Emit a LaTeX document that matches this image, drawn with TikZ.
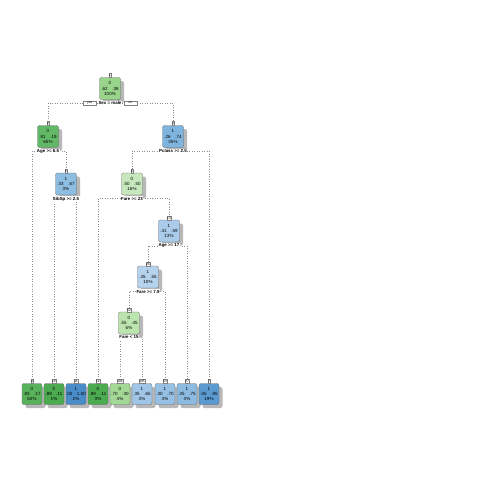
\documentclass[tikz,border=0pt]{standalone}
\usepackage{fontspec}
\setmainfont{Liberation Sans}
\usetikzlibrary{shadows,backgrounds}
\definecolor{g62}{HTML}{98D48A}
\definecolor{g81}{HTML}{62B866}
\definecolor{g83}{HTML}{58B25C}
\definecolor{g89}{HTML}{4CAB50}
\definecolor{g70}{HTML}{A4D896}
\definecolor{g55}{HTML}{BCE4AE}
\definecolor{g50}{HTML}{C6E8BC}
\definecolor{b74}{HTML}{7FB4DE}
\definecolor{b67}{HTML}{8EBDE2}
\definecolor{b59}{HTML}{AACBEA}
\definecolor{b55}{HTML}{B6D3EE}
\definecolor{b65}{HTML}{A0C5E7}
\definecolor{b70}{HTML}{96C0E4}
\definecolor{b75}{HTML}{8CBAE1}
\definecolor{b95}{HTML}{5A9AD0}
\definecolor{b100}{HTML}{4A8CCA}
\tikzset{
  box/.style={rounded corners=2pt, draw=black!60, line width=0.3pt,
    minimum width=21pt, minimum height=22pt, inner sep=0pt, align=center,
    font=\fontsize{4.5}{5.4}\selectfont,
    drop shadow={shadow xshift=3.5pt, shadow yshift=-3.5pt, fill=black!28, opacity=1}},
  leaf/.style={box, minimum width=20pt, minimum height=21pt},
  tab/.style={draw=black!50, fill=white, line width=0.2pt, inner sep=0.5pt,
    minimum height=4pt, font=\fontsize{3.2}{3.2}\selectfont},
  yn/.style={tab, minimum width=13pt},
  lab/.style={fill=white, inner sep=0.6pt, font=\bfseries\fontsize{4.4}{5}\selectfont},
  conn/.style={draw=black!45, line width=0.5pt, dash pattern=on 0.5pt off 2pt}
}
\begin{document}
\begin{tikzpicture}[x=1pt,y=-1pt]
\useasboundingbox (0,0) rectangle (480,480);
% internal nodes
\node[box, fill=g62] (n1) at (110,88.5) {0\\.62\quad.38\\100\%};
\node[box, fill=g81] (n2) at (48,136.5) {0\\.81\quad.19\\65\%};
\node[box, fill=b74] (n3) at (173,136.5) {1\\.26\quad.74\\35\%};
\node[box, fill=b67] (n5) at (66,184) {1\\.33\quad.67\\3\%};
\node[box, fill=g50] (n6) at (132,184) {0\\.50\quad.50\\16\%};
\node[box, fill=b59] (n13) at (169,231) {1\\.41\quad.59\\13\%};
\node[box, fill=b55] (n26) at (148,277) {1\\.45\quad.55\\10\%};
\node[box, fill=g55] (n52) at (129,323) {0\\.55\quad.45\\6\%};
% leaves
\node[leaf, fill=g83] (n4) at (32,394) {0\\.83\quad.17\\62\%};
\node[leaf, fill=g89] (n10) at (54,394) {0\\.89\quad.11\\1\%};
\node[leaf, fill=b100] (n11) at (76,394) {1\\.00\quad1.00\\2\%};
\node[leaf, fill=g89] (n12) at (98,394) {0\\.89\quad.11\\3\%};
\node[leaf, fill=g70] (n104) at (120,394) {0\\.70\quad.30\\4\%};
\node[leaf, fill=b65] (n105) at (142,394) {1\\.35\quad.65\\3\%};
\node[leaf, fill=b70] (n53) at (165,394) {1\\.30\quad.70\\4\%};
\node[leaf, fill=b75] (n27) at (187,394) {1\\.25\quad.75\\3\%};
\node[leaf, fill=b95] (n7) at (209,394) {1\\.05\quad.95\\19\%};
% number tabs
\foreach \n in {1,2,3,5,6,13,26,52,4,10,11,12,104,105,53,27,7}
  \node[tab, anchor=south] (t\n) at ([yshift=-0.3pt]n\n.north) {\n};
% split labels
\node[lab, anchor=north] (l1) at ([yshift=-1pt]n1.south) {Sex = male};
\node[lab, anchor=north] (l2) at ([yshift=-1pt]n2.south) {Age >= 6.5};
\node[lab, anchor=north] (l3) at ([yshift=-1pt]n3.south) {Pclass >= 2.5};
\node[lab, anchor=north] (l5) at ([yshift=-1pt]n5.south) {SibSp >= 2.5};
\node[lab, anchor=north] (l6) at ([yshift=-1pt]n6.south) {Fare >= 23};
\node[lab, anchor=north] (l13) at ([yshift=-1pt]n13.south) {Age >= 17};
\node[lab, anchor=north] (l26) at ([yshift=-1pt]n26.south) {Fare >= 7.9};
\node[lab, anchor=north] (l52) at ([yshift=-1pt]n52.south) {Fare < 15};
\node[yn, anchor=east] (yes) at ([xshift=-1.5pt]l1.west) {yes};
\node[yn, anchor=west] (no) at ([xshift=1.5pt]l1.east) {no};
% connectors
\begin{scope}[on background layer]
\fill[white] (0,0) rectangle (480,480);
\draw[conn] (t2.north) |- (l1.center) -| (t3.north);
\draw[conn] (t4.north) |- (l2.center) -| (t5.north);
\draw[conn] (t10.north) |- (l5.center) -| (t11.north);
\draw[conn] (t6.north) |- (l3.center) -| (t7.north);
\draw[conn] (t12.north) |- (l6.center) -| (t13.north);
\draw[conn] (t26.north) |- (l13.center) -| (t27.north);
\draw[conn] (t52.north) |- (l26.center) -| (t53.north);
\draw[conn] (t104.north) |- (l52.center) -| (t105.north);
\end{scope}
\end{tikzpicture}
\end{document}
